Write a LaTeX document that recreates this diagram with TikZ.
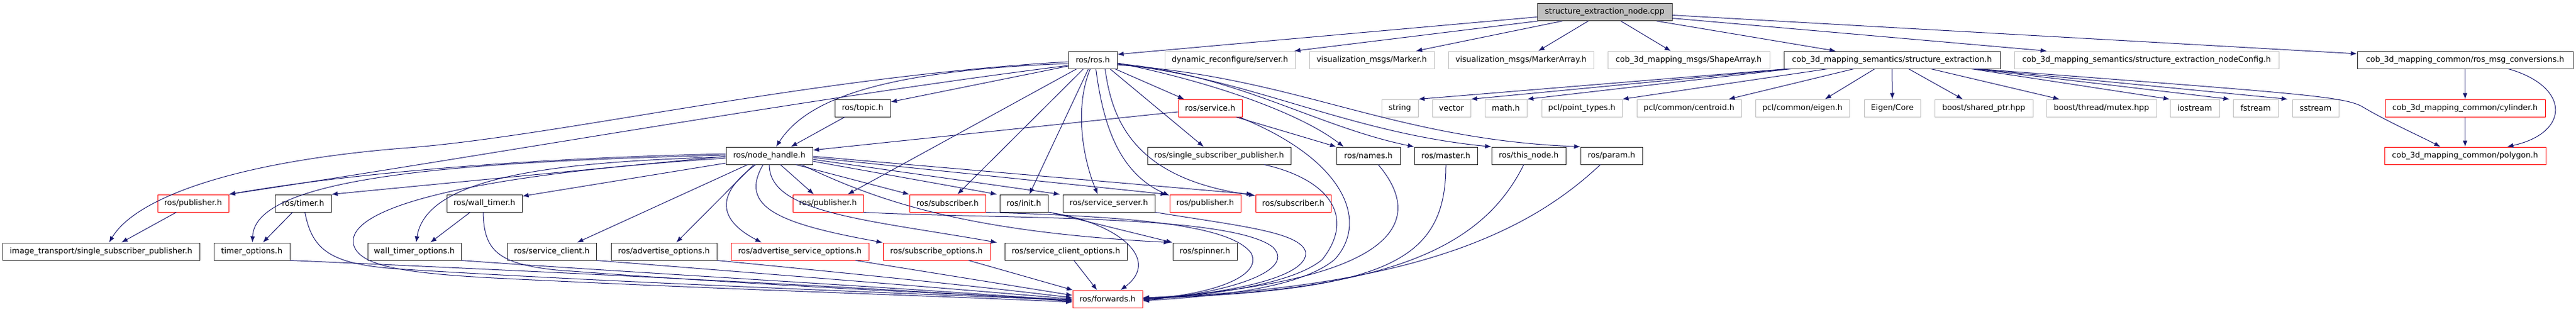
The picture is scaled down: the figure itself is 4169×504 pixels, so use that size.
\documentclass[tikz,border=0pt]{standalone}
\usepackage{fontspec}
\setmainfont{DejaVu Sans}
\usepackage{xcolor}
\usetikzlibrary{arrows.meta}
\definecolor{edgeblue}{HTML}{191970}
\definecolor{sysgray}{HTML}{BFBFBF}
\tikzset{
  file/.style={draw=black!85, line width=1pt, minimum height=28, inner xsep=0pt, inner ysep=0pt, font=\fontsize{12.7}{14}\selectfont},
  redfile/.style={file, draw=red},
  sysfile/.style={file, draw=sysgray},
  topfile/.style={file, fill=sysgray},
  incl/.style={draw=edgeblue, line width=1pt, -{Latex[length=10pt,width=7.5pt]}},
}
\begin{document}
\begin{tikzpicture}[x=1pt,y=-1pt]
	\useasboundingbox (0,0) rectangle (4169,504);

	% Source file
	\node[topfile, minimum width=218] (sen) at (2597,19.5) {structure\_extraction\_node.cpp};

	% Direct includes
	\node[file, minimum width=79] (ros) at (1768.5,97) {ros/ros.h};
	\node[sysfile, minimum width=211] (dyn) at (1990.5,97) {dynamic\_reconfigure/server.h};
	\node[sysfile, minimum width=202] (marker) at (2220,97) {visualization\_msgs/Marker.h};
	\node[sysfile, minimum width=235] (marr) at (2461.5,97) {visualization\_msgs/MarkerArray.h};
	\node[sysfile, minimum width=262] (shape) at (2733,97) {cob\_3d\_mapping\_msgs/ShapeArray.h};
	\node[file, minimum width=350] (se) at (3062,97) {cob\_3d\_mapping\_semantics/structure\_extraction.h};
	\node[sysfile, minimum width=428] (cfg) at (3474,97) {cob\_3d\_mapping\_semantics/structure\_extraction\_nodeConfig.h};
	\node[file, minimum width=349] (rosmsg) at (3989.5,97) {cob\_3d\_mapping\_common/ros\_msg\_conversions.h};

	% Second level
	\node[file, minimum width=90] (topic) at (1396,175) {ros/topic.h};
	\node[redfile, minimum width=103] (service) at (1958.5,175) {ros/service.h};
	\node[sysfile, minimum width=59] (string) at (2265.5,175) {string};
	\node[sysfile, minimum width=62] (vector) at (2349,175) {vector};
	\node[sysfile, minimum width=68] (math) at (2437,175) {math.h};
	\node[sysfile, minimum width=130] (ptypes) at (2560,175) {pcl/point\_types.h};
	\node[sysfile, minimum width=169] (centroid) at (2733.5,175) {pcl/common/centroid.h};
	\node[sysfile, minimum width=152] (eigen) at (2917,175) {pcl/common/eigen.h};
	\node[sysfile, minimum width=91] (core) at (3062.5,175) {Eigen/Core};
	\node[sysfile, minimum width=159] (shptr) at (3210.5,175) {boost/shared\_ptr.hpp};
	\node[sysfile, minimum width=178] (mutex) at (3401,175) {boost/thread/mutex.hpp};
	\node[sysfile, minimum width=80] (iostream) at (3552,175) {iostream};
	\node[sysfile, minimum width=73] (fstream) at (3650.5,175) {fstream};
	\node[sysfile, minimum width=75] (sstream) at (3747.5,175) {sstream};
	\node[redfile, minimum width=259] (cylinder) at (3989.5,175) {cob\_3d\_mapping\_common/cylinder.h};

	% Third level
	\node[file, minimum width=140] (nh) at (1245,252) {ros/node\_handle.h};
	\node[file, minimum width=232] (ssp) at (1973,252) {ros/single\_subscriber\_publisher.h};
	\node[file, minimum width=103] (names) at (2214.5,252) {ros/names.h};
	\node[file, minimum width=102] (master) at (2340,252) {ros/master.h};
	\node[file, minimum width=120] (thisnode) at (2474,252) {ros/this\_node.h};
	\node[file, minimum width=100] (param) at (2608,252) {ros/param.h};
	\node[redfile, minimum width=261] (polygon) at (3989.5,252) {cob\_3d\_mapping\_common/polygon.h};

	% Fourth level
	\node[redfile, minimum width=115] (pubA) at (312.5,329) {ros/publisher.h};
	\node[file, minimum width=91] (timer) at (490.5,329) {ros/timer.h};
	\node[file, minimum width=122] (wtimer) at (784,329) {ros/wall\_timer.h};
	\node[redfile, minimum width=114] (pubB) at (1340,329) {ros/publisher.h};
	\node[redfile, minimum width=123] (subA) at (1533.5,329) {ros/subscriber.h};
	\node[file, minimum width=78] (init) at (1657,329) {ros/init.h};
	\node[file, minimum width=149] (srvsrv) at (1794.5,329) {ros/service\_server.h};
	\node[redfile, minimum width=115] (pubC) at (1950.5,329) {ros/publisher.h};
	\node[redfile, minimum width=122] (subB) at (2093,329) {ros/subscriber.h};

	% Fifth level
	\node[file, minimum width=319] (itssp) at (163.5,407) {image\_transport/single\_subscriber\_publisher.h};
	\node[file, minimum width=123] (topts) at (407.5,407) {timer\_options.h};
	\node[file, minimum width=151] (wtopts) at (670.5,407) {wall\_timer\_options.h};
	\node[file, minimum width=144] (srvcli) at (893,407) {ros/service\_client.h};
	\node[file, minimum width=171] (advopts) at (1074.5,407) {ros/advertise\_options.h};
	\node[redfile, minimum width=223] (advsrvopts) at (1294.5,407) {ros/advertise\_service\_options.h};
	\node[redfile, minimum width=173] (subopts) at (1515.5,407) {ros/subscribe\_options.h};
	\node[file, minimum width=198] (srvcliopts) at (1725,407) {ros/service\_client\_options.h};
	\node[file, minimum width=104] (spinner) at (1950,407) {ros/spinner.h};

	\node[redfile, minimum width=113] (fwd) at (1792.5,484) {ros/forwards.h};

	% structure_extraction_node.cpp
	\draw[incl] ([yshift=-8]sen.west) -- ([yshift=9]ros.east);
	\draw[incl] ([xshift=2]sen.south west) -- ([xshift=-2]dyn.north east);
	\draw[incl] ([xshift=41]sen.south west) -- ([xshift=-30]marker.north east);
	\draw[incl] ([xshift=83]sen.south west) -- ([xshift=-90]marr.north east);
	\draw[incl] ([xshift=26]sen.south) -- ([xshift=-29]shape.north);
	\draw[incl] ([xshift=84]sen.south) -- ([xshift=-91]se.north);
	\draw[incl] ([yshift=-10]sen.east) -- ([xshift=53]cfg.north west);
	\draw[incl] ([yshift=-5]sen.east) -- ([yshift=10]rosmsg.west);

	% structure_extraction.h
	\draw[incl] ([xshift=5]se.south west) -- (string.north east);
	\draw[incl] ([xshift=8]se.south west) -- (vector.north east);
	\draw[incl] ([xshift=12]se.south west) -- (math.north east);
	\draw[incl] ([xshift=71]se.south west) -- (ptypes.north east);
	\draw[incl] ([xshift=-62]se.south) -- ([xshift=-21]centroid.north east);
	\draw[incl] ([xshift=-28]se.south) -- ([xshift=-40]eigen.north east);
	\draw[incl] (se.south) -- (core.north);
	\draw[incl] ([xshift=27]se.south) -- ([xshift=-34]shptr.north);
	\draw[incl] ([xshift=63]se.south) -- ([xshift=-68]mutex.north);
	\draw[incl] ([xshift=-47]se.south east) -- (iostream.north west);
	\draw[incl] ([xshift=-43]se.south east) -- ([xshift=-5]fstream.north west);
	\draw[incl] ([xshift=-40]se.south east) -- ([xshift=-7]sstream.north west);
	\draw[incl] ([xshift=-36]se.south east) .. controls (3700,150) and (3790,155) .. (3822,172)
		.. controls (3860,195) and (3920,222) .. ([xshift=-40]polygon.north);

	% ros_msg_conversions.h
	\draw[incl] (rosmsg.south) -- (cylinder.north);
	\draw[incl] ([xshift=70]rosmsg.south) .. controls (4160,140) and (4160,215) .. ([xshift=68]polygon.north);
	\draw[incl] (cylinder.south) -- (polygon.north);

	% ros.h
	\draw[incl] ([yshift=-10]ros.west) -- ([yshift=10]topic.east);
	\draw[incl] ([yshift=-6]ros.west) .. controls (1400,115) and (1300,170) .. ([xshift=11]nh.north);
	\draw[incl] ([yshift=-3]ros.west) .. controls (1300,125) and (900,222) .. (650,240)
		.. controls (380,262) and (220,320) .. ([xshift=13]itssp.north);
	\draw[incl] ([yshift=-9]ros.west) .. controls (1300,160) and (800,250) .. (pubA.north east);
	\draw[incl] ([xshift=-26]ros.south) -- ([xshift=32]pubB.north);
	\draw[incl] ([xshift=-15]ros.south) -- ([xshift=16]subA.north);
	\draw[incl] ([xshift=-7]ros.south) -- ([xshift=9]init.north);
	\draw[incl] ([xshift=-4]ros.south) .. controls (1740,170) and (1750,250) .. ([xshift=-18]srvsrv.north);
	\draw[incl] ([xshift=5]ros.south) .. controls (1785,200) and (1810,280) .. ([yshift=-2]pubC.north west);
	\draw[incl] ([xshift=20]ros.south) .. controls (1800,200) and (1840,290) .. ([yshift=-2]subB.north west);
	\draw[incl] ([xshift=-4]ros.south east) -- ([xshift=10]service.north west);
	\draw[incl] ([xshift=-12]ros.south east) -- ([xshift=-25]ssp.north);
	\draw[incl] ([yshift=-5]ros.east) .. controls (1950,130) and (2100,180) .. ([xshift=12]names.north west);
	\draw[incl] ([yshift=-6]ros.east) .. controls (2000,120) and (2130,205) .. (master.north west);
	\draw[incl] ([yshift=-7]ros.east) .. controls (2020,125) and (2180,215) .. (thisnode.north west);
	\draw[incl] ([yshift=-8]ros.east) .. controls (2100,125) and (2250,225) .. (param.north west);

	% second level
	\draw[incl] ([xshift=-29]topic.south) -- ([xshift=35]nh.north);
	\draw[incl] ([yshift=-6]service.west) -- ([yshift=9]nh.east);
	\draw[incl] ([xshift=-10]service.south east) -- (names.north west);
	\draw[incl] ([xshift=-5]service.south east) .. controls (2180,260) and (2215,360) .. (2160,420)
		.. controls (2100,470) and (1950,480) .. ([yshift=-3]fwd.east);

	% ros/node_handle.h
	\draw[incl] ([yshift=3]nh.west) .. controls (900,255) and (600,275) .. (pubA.north east);
	\draw[incl] ([yshift=-1]nh.west) -- (timer.north east);
	\draw[incl] ([yshift=1]nh.west) .. controls (750,262) and (412,285) .. ([xshift=1]topts.north);
	\draw[incl] ([yshift=-12]nh.west) -- ([yshift=-3]wtimer.north east);
	\draw[incl] ([yshift=-2]nh.west) .. controls (900,262) and (690,285) .. ([xshift=3]wtopts.north);
	\draw[incl] ([yshift=-4]nh.west) .. controls (800,280) and (560,330) .. (572,395)
		.. controls (580,430) and (650,442) .. (800,450)
		.. controls (1200,470) and (1500,478) .. ([yshift=-5]fwd.west);
	\draw[incl] ([xshift=-35]nh.south) -- ([xshift=41]srvcli.north);
	\draw[incl] ([xshift=-25]nh.south) -- ([xshift=20]advopts.north);
	\draw[incl] ([xshift=-22]nh.south) .. controls (1150,320) and (1170,360) .. ([xshift=-62]advsrvopts.north);
	\draw[incl] ([xshift=-10]nh.south) .. controls (1195,335) and (1260,362) .. (subopts.north west);
	\draw[incl] (nh.south) .. controls (1245,345) and (1400,355) .. ([xshift=-12]srvcliopts.north west);
	\draw[incl] ([xshift=18]nh.south) -- ([xshift=-23]pubB.north);
	\draw[incl] ([xshift=43]nh.south) -- (subA.north west);
	\draw[incl] ([xshift=52]nh.south) .. controls (1420,325) and (1560,375) .. ([xshift=-4]spinner.north west);
	\draw[incl] ([yshift=-9]nh.east) -- ([xshift=-4]init.north west);
	\draw[incl] ([yshift=-6]nh.east) -- ([xshift=-4]srvsrv.north west);
	\draw[incl] ([yshift=-3]nh.east) -- ([xshift=-4]pubC.north west);
	\draw[incl] ([yshift=-1]nh.east) -- ([xshift=-4]subB.north west);

	% third level
	\draw[incl] ([xshift=73]ssp.south) .. controls (2150,290) and (2195,350) .. (2140,420)
		.. controls (2090,462) and (1950,478) .. ([yshift=-1]fwd.east);
	\draw[incl] ([xshift=16]names.south) .. controls (2310,360) and (2260,455) .. ([yshift=1]fwd.east);
	\draw[incl] (master.south) .. controls (2340,420) and (2250,470) .. ([yshift=1]fwd.east);
	\draw[incl] ([xshift=-8]thisnode.south) .. controls (2400,400) and (2250,472) .. ([yshift=2]fwd.east);
	\draw[incl] ([xshift=-18]param.south) .. controls (2480,370) and (2300,465) .. ([yshift=2]fwd.east);

	% fourth level
	\draw[incl] ([xshift=-27]pubA.south) -- ([xshift=33]itssp.north);
	\draw[incl] ([xshift=-17]timer.south) -- ([xshift=18]topts.north);
	\draw[incl] ([xshift=3]timer.south) .. controls (505,405) and (535,427) .. (640,435)
		.. controls (1000,458) and (1500,476) .. ([yshift=-2]fwd.west);
	\draw[incl] ([xshift=-23]wtimer.south) -- ([xshift=26]wtopts.north);
	\draw[incl] ([xshift=-2]wtimer.south) .. controls (783,405) and (805,427) .. (900,437)
		.. controls (1200,460) and (1500,474) .. ([yshift=-1]fwd.west);
	\draw[incl] (pubB.south east) .. controls (1600,355) and (1990,345) .. (2060,400)
		.. controls (2100,440) and (1980,475) .. ([yshift=-2]fwd.east);
	\draw[incl] (subA.south east) .. controls (1800,350) and (1990,360) .. (2025,410)
		.. controls (2045,450) and (1950,478) .. (fwd.east);
	\draw[incl] (srvsrv.south east) .. controls (2000,365) and (2105,375) .. (2113,408)
		.. controls (2118,450) and (1980,476) .. (fwd.east);
	\draw[incl] ([xshift=2]init.south east) -- (spinner.north west);
	\draw[incl] (init.south east) .. controls (1810,360) and (1880,420) .. ([xshift=21]fwd.north);

	% fifth level
	\draw[incl] (topts.south east) .. controls (900,440) and (1500,470) .. ([yshift=-4]fwd.west);
	\draw[incl] (wtopts.south east) .. controls (1000,440) and (1500,468) .. ([yshift=-3]fwd.west);
	\draw[incl] (srvcli.south east) .. controls (1200,440) and (1550,468) .. (fwd.west);
	\draw[incl] (advopts.south east) .. controls (1350,440) and (1600,465) .. ([yshift=2]fwd.west);
	\draw[incl] ([xshift=90]advsrvopts.south) -- ([yshift=6]fwd.west);
	\draw[incl] ([xshift=52]subopts.south) -- ([xshift=1]fwd.north west);
	\draw[incl] ([xshift=13]srvcliopts.south) -- ([xshift=-17]fwd.north);
\end{tikzpicture}
\end{document}
